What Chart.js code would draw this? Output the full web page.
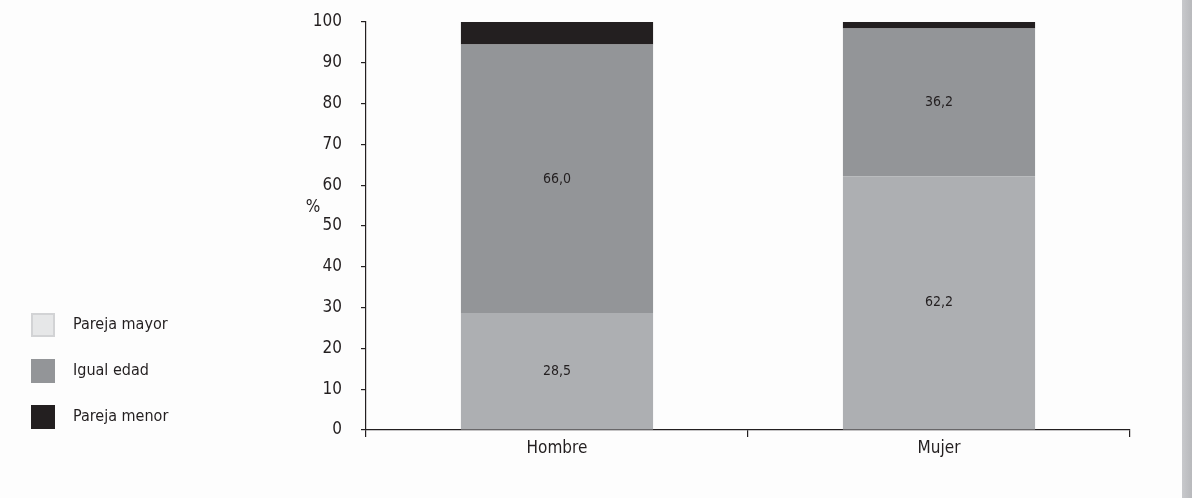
<!DOCTYPE html>
<html>
<head>
<meta charset="utf-8">
<script src="https://cdn.jsdelivr.net/npm/chart.js@4.4.0/dist/chart.umd.min.js"></script>
<style>
  html, body { margin: 0; padding: 0; background: #fdfdfd; }
  #wrap { position: relative; width: 1192px; height: 498px; overflow: hidden; }
  #edge { position: absolute; left: 1182px; top: 0; width: 10px; height: 498px;
          background: linear-gradient(to right, #c8c9cc, #b8b9bc); }
  canvas { display: block; }
</style>
</head>
<body>
<div id="wrap">
  <canvas id="c" width="1192" height="498" style="width:1192px;height:498px"></canvas>
  <div id="edge"></div>
</div>
<script>
// Distribución según edad de la pareja (%)
const categories   = ['Hombre', 'Mujer'];
const parejaMayor  = [28.5, 62.2];
const igualEdad    = [66.0, 36.2];
const parejaMenor  = [5.5, 1.6];
const seriesNames  = ['Pareja mayor', 'Igual edad', 'Pareja menor'];
const labelledSeries = [0, 1];   // series whose values are printed on the bars

const FONT = "'Liberation Sans Narrow', 'DejaVu Sans Condensed', 'Roboto Condensed', sans-serif";
const INK = '#231f20';

// Values printed inside the bar segments
const valueLabels = {
  id: 'valueLabels',
  afterDatasetsDraw(chart) {
    const ctx = chart.ctx;
    ctx.save();
    ctx.font = '14px ' + FONT;
    ctx.fillStyle = INK;
    ctx.textAlign = 'center';
    ctx.textBaseline = 'middle';
    labelledSeries.forEach(di => {
      const ds = chart.data.datasets[di];
      chart.getDatasetMeta(di).data.forEach((bar, i) => {
        const txt = ds.data[i].toFixed(1).replace('.', ',');
        ctx.fillText(txt, bar.x, (bar.y + bar.base) / 2);
      });
    });
    ctx.restore();
  }
};

// "%" unit label beside the value axis
const unitLabel = {
  id: 'unitLabel',
  afterDraw(chart) {
    const ctx = chart.ctx;
    const y = chart.scales.y;
    ctx.save();
    ctx.font = '17px ' + FONT;
    ctx.fillStyle = INK;
    ctx.textAlign = 'center';
    ctx.textBaseline = 'middle';
    ctx.fillText('%', chart.chartArea.left - 53, y.getPixelForValue(54.5));
    ctx.restore();
  }
};

// Legend stacked at the lower left
const sideLegend = {
  id: 'sideLegend',
  afterDraw(chart) {
    const ctx = chart.ctx;
    ctx.save();
    ctx.font = '16px ' + FONT;
    ctx.textBaseline = 'middle';
    ctx.textAlign = 'left';
    chart.data.datasets.forEach((ds, i) => {
      const top = 313 + i * 46;
      ctx.fillStyle = ds.legendColor;
      ctx.fillRect(31, top, 24, 24);
      if (ds.legendBorder) {
        ctx.strokeStyle = ds.legendBorder;
        ctx.lineWidth = 2;
        ctx.strokeRect(32, top + 1, 22, 22);
      }
      ctx.fillStyle = INK;
      ctx.fillText(ds.label, 73, top + 12);
    });
    ctx.restore();
  }
};

new Chart(document.getElementById('c'), {
  type: 'bar',
  data: {
    labels: categories,
    datasets: [
      { label: seriesNames[0], data: parejaMayor, backgroundColor: '#adafb2',
        legendColor: '#e6e7e8', legendBorder: '#d2d3d5' },
      { label: seriesNames[1], data: igualEdad, backgroundColor: '#939598',
        legendColor: '#939598' },
      { label: seriesNames[2], data: parejaMenor, backgroundColor: INK,
        legendColor: INK }
    ]
  },
  options: {
    responsive: false,
    animation: false,
    devicePixelRatio: 1,
    layout: { padding: { left: 300, top: 22, right: 62, bottom: 0 } },
    datasets: { bar: { categoryPercentage: 1, barPercentage: 0.503, borderWidth: 0 } },
    plugins: { legend: { display: false }, tooltip: { enabled: false } },
    scales: {
      x: {
        stacked: true,
        afterFit(s) { s.height = 68; s.paddingLeft = 0; s.paddingRight = 0; },
        grid: { display: true, drawOnChartArea: false, drawTicks: true, tickLength: 7,
                color: INK, lineWidth: 1.2, offset: true },
        border: { display: true, color: INK, width: 1.2 },
        ticks: { color: INK, font: { family: FONT, size: 17 }, padding: 1 }
      },
      y: {
        stacked: true,
        min: 0, max: 100,
        afterFit(s) { s.width = 66; s.paddingTop = 0; s.paddingBottom = 0; },
        grid: { display: true, drawOnChartArea: false, drawTicks: true, tickLength: 5,
                color: INK, lineWidth: 1.2 },
        border: { display: true, color: INK, width: 1.2 },
        ticks: { stepSize: 10, color: INK, font: { family: FONT, size: 17 }, padding: 19 }
      }
    }
  },
  plugins: [valueLabels, unitLabel, sideLegend]
});
</script>
</body>
</html>
